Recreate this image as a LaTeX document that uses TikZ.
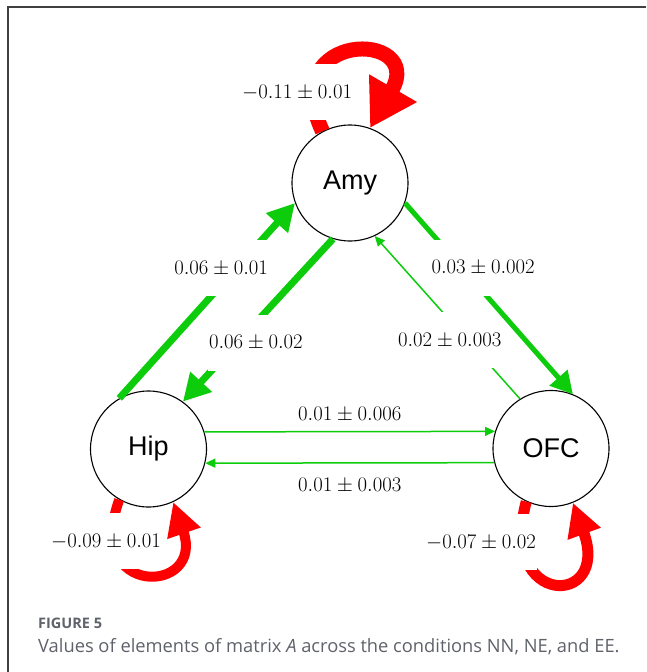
\documentclass[tikz,border=0pt]{standalone}
\usepackage{fontspec}
\newfontfamily\regionfont{Liberation Sans}
\newfontfamily\legendefont{Open Sans}
\usetikzlibrary{arrows.meta}
\definecolor{vert}{RGB}{12,204,12}
\definecolor{rouge}{RGB}{255,0,0}
\definecolor{gristexte}{RGB}{95,98,106}

\begin{document}
\begin{tikzpicture}[x=1pt,y=-1pt]
    \useasboundingbox (0,0) rectangle (646,672);
    \tikzstyle{region}=[circle,draw=black,line width=1.1pt,fill=white,minimum size=116pt,inner sep=0pt,font=\regionfont\fontsize{27}{30}\selectfont]
    \tikzstyle{poids}=[inner xsep=1pt,inner ysep=0pt,font=\fontsize{20.74}{25}\selectfont]
    \tikzstyle{trou}=[poids,fill=white,minimum height=56pt]
    \tikzstyle{fort}=[draw=vert,line width=7pt,-{Triangle[length=27pt,width=28pt]}]
    \tikzstyle{moyen}=[draw=vert,line width=5pt,-{Triangle[length=22pt,width=23pt]}]
    \tikzstyle{faible}=[draw=vert,line width=1.5pt,-{Triangle[length=10pt,width=9pt]}]
    \tikzstyle{boucle}=[draw=rouge,line width=10pt,-{Triangle[length=33pt,width=33pt]}]
    \tikzstyle{legende}=[anchor=base west,inner sep=0pt,text=gristexte]

% Cadre
\draw[line width=1.5pt,black!75] (646,7) -- (8,7) -- (8,672);

% Regions
\node[region] (Amy) at (350,183) {Amy};
\node[region] (Hip) at (148.5,449) {Hip};
\node[region] (OFC) at (551,448.5) {OFC};

% Auto-connexions
\draw[boucle,line width=15pt,-{Triangle[length=46pt,width=52pt]}] (Amy.118) .. controls +(115:113pt) and +(60:113pt) .. (Amy.70)
    node[trou,pos=0.15,xshift=-16pt] (wAmy) {$-0.11\pm0.01$};
\draw[boucle] (Hip.240) .. controls +(250:105pt) and +(289:98pt) .. (Hip.295)
    node[trou,pos=0.17,xshift=-7pt] (wHip) {$-0.09\pm0.01$};
\draw[boucle,line width=11pt] (OFC.245) .. controls +(255:110pt) and +(290:112pt) .. (OFC.292)
    node[trou,pos=0.15,xshift=-41pt] (wOFC) {$-0.07\pm0.02$};

% Arretes et poids
\draw[fort] (Hip.120) to node[trou,pos=0.665,xshift=-15pt] (wHA) {$0.06\pm0.01$} (Amy.200);
\draw[fort] (Amy.253) to node[trou,pos=0.64,xshift=19pt] (wAH) {$0.06\pm0.02$} (Hip.54);

\draw[faible] (OFC.122) to node[trou,pos=0.36,xshift=-18pt] (wOA) {$0.02\pm0.003$} (Amy.295);
\draw[moyen] (Amy.340) to node[trou,pos=0.34,xshift=21pt] (wAO) {$0.03\pm0.002$} (OFC.68);

\draw[faible] (Hip.17) to node[poids,above=9pt] (wHO) {$0.01\pm0.006$} (OFC.163);
\draw[faible] (OFC.194) to node[poids,below=14pt] (wOH) {$0.01\pm0.003$} (Hip.346);

% Legende
\node[legende,font=\legendefont\bfseries\fontsize{14.5}{17}\selectfont] (fig) at (38,628) {FIGURE 5};
\node[legende,font=\legendefont\fontsize{18.3}{22}\selectfont] (texte) at (38,652.5) {Values of elements of matrix \textit{A} across the conditions NN, NE, and EE.};

\end{tikzpicture}
\end{document}
